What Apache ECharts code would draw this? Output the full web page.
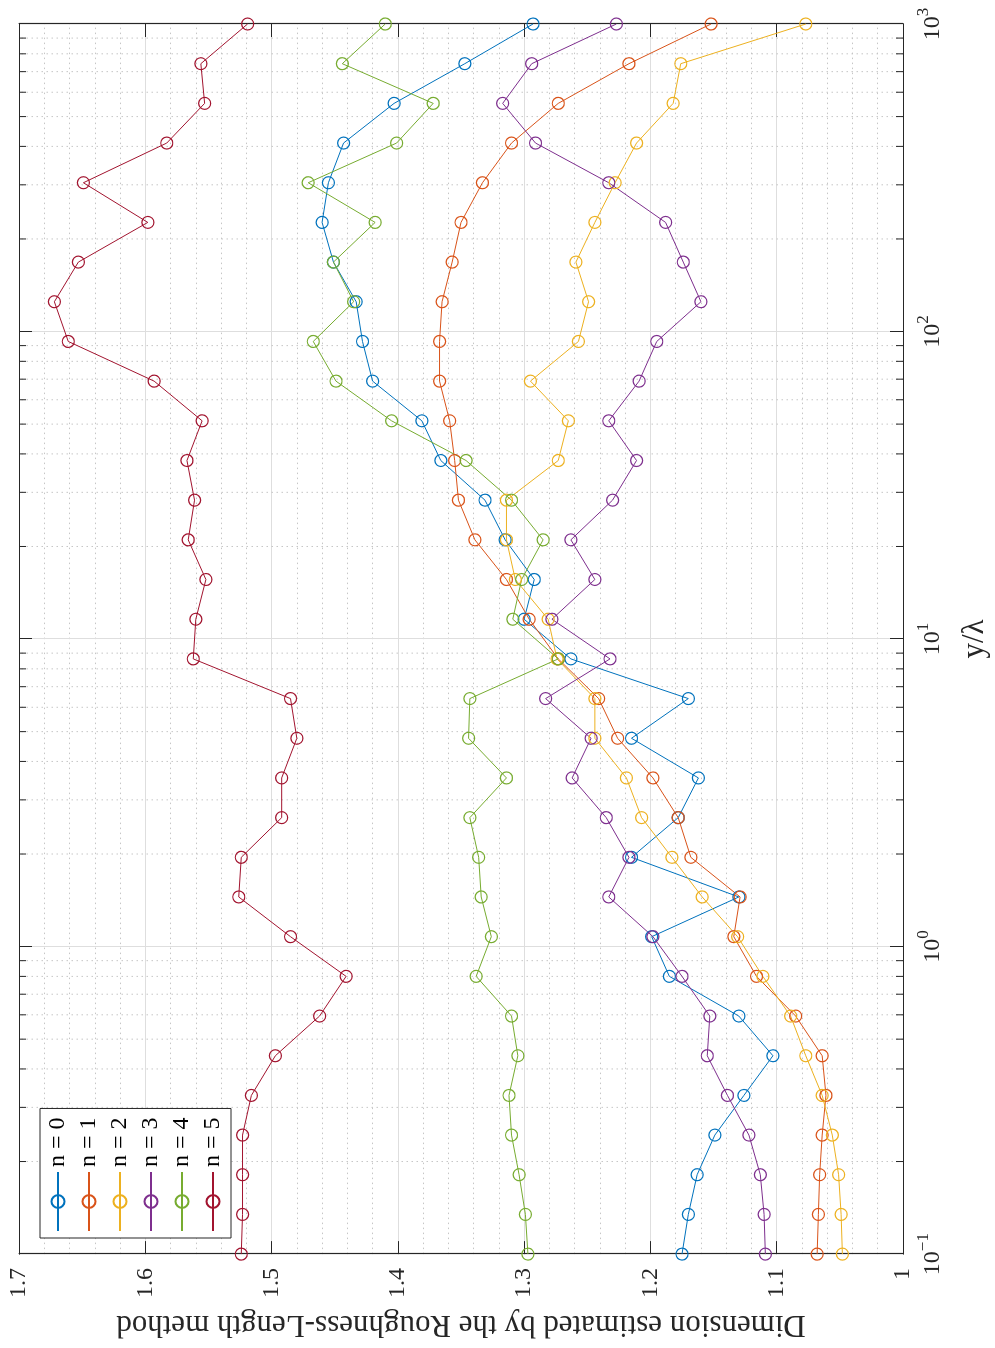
<!DOCTYPE html>
<html>
<head>
<meta charset="utf-8">
<script src="https://cdn.jsdelivr.net/npm/echarts@6/dist/echarts.min.js"></script>
<style>
  html, body { margin: 0; padding: 0; background: #fff; width: 995px; height: 1348px; overflow: hidden; }
  /* The figure is laid out landscape and turned a quarter-turn counter-clockwise onto the portrait page */
  #chart {
    position: absolute; left: 0; top: 0;
    width: 1348px; height: 995px;
    transform-origin: 0 0;
    transform: translate(0px, 1348px) rotate(-90deg);
  }
</style>
</head>
<body>
<div id="chart"></div>
<script>
// Normalised scale y/λ at which the dimension was estimated (log-spaced)
const yLambda = [0.1, 0.1346, 0.1812, 0.2438, 0.3281, 0.4416, 0.5944, 0.8002,
  1.077, 1.450, 1.951, 2.626, 3.535, 4.758, 6.404, 8.620,
  11.60, 15.62, 21.02, 28.29, 38.07, 51.25, 68.98, 92.84,
  125.0, 168.2, 226.4, 304.7, 410.1, 552.0, 743.0, 1000];

// Roughness-Length dimension estimates, one array per order n
const dimN0 = [1.175, 1.170, 1.163, 1.149, 1.126, 1.103, 1.130, 1.185,
  1.199, 1.130, 1.215, 1.178, 1.162, 1.215, 1.170, 1.263,
  1.300, 1.292, 1.315, 1.331, 1.366, 1.381, 1.420, 1.428,
  1.433, 1.451, 1.460, 1.455, 1.443, 1.403, 1.347, 1.293];
const dimN1 = [1.068, 1.067, 1.066, 1.064, 1.061, 1.064, 1.085, 1.116,
  1.134, 1.129, 1.168, 1.178, 1.198, 1.226, 1.241, 1.273,
  1.296, 1.314, 1.339, 1.352, 1.355, 1.359, 1.367, 1.367,
  1.365, 1.357, 1.350, 1.333, 1.310, 1.273, 1.217, 1.152];
const dimN2 = [1.048, 1.049, 1.051, 1.056, 1.064, 1.077, 1.089, 1.111,
  1.131, 1.159, 1.183, 1.207, 1.219, 1.244, 1.244, 1.274,
  1.281, 1.307, 1.314, 1.314, 1.273, 1.265, 1.295, 1.257,
  1.249, 1.259, 1.244, 1.228, 1.211, 1.182, 1.176, 1.077];
const dimN3 = [1.109, 1.110, 1.113, 1.122, 1.139, 1.155, 1.153, 1.175,
  1.198, 1.233, 1.217, 1.235, 1.262, 1.247, 1.283, 1.232,
  1.278, 1.244, 1.263, 1.230, 1.211, 1.233, 1.209, 1.195,
  1.160, 1.174, 1.188, 1.233, 1.291, 1.317, 1.294, 1.227];
const dimN4 = [1.297, 1.299, 1.304, 1.310, 1.312, 1.305, 1.310, 1.338,
  1.326, 1.334, 1.336, 1.343, 1.314, 1.344, 1.343, 1.273,
  1.309, 1.302, 1.285, 1.310, 1.346, 1.405, 1.449, 1.467,
  1.435, 1.451, 1.418, 1.471, 1.401, 1.372, 1.444, 1.410];
const dimN5 = [1.524, 1.523, 1.523, 1.523, 1.516, 1.497, 1.462, 1.441,
  1.485, 1.526, 1.524, 1.492, 1.492, 1.480, 1.485, 1.562,
  1.560, 1.552, 1.566, 1.561, 1.567, 1.555, 1.593, 1.661,
  1.672, 1.653, 1.598, 1.649, 1.583, 1.553, 1.556, 1.519];

const seriesNames = ['n = 0', 'n = 1', 'n = 2', 'n = 3', 'n = 4', 'n = 5'];
const seriesValues = [dimN0, dimN1, dimN2, dimN3, dimN4, dimN5];
const seriesColors = ['#0072BD', '#D95319', '#EDB120', '#7E2F8E', '#77AC30', '#A2142F'];

// Intermediate decade positions (2..9 × 10^k) for the dotted minor grid on the log axis
const minorLogTicks = [0.2, 0.3, 0.4, 0.5, 0.6, 0.7, 0.8, 0.9,
  2, 3, 4, 5, 6, 7, 8, 9,
  20, 30, 40, 50, 60, 70, 80, 90,
  200, 300, 400, 500, 600, 700, 800, 900];

const FONT = '"Liberation Serif", "Times New Roman", serif';
const INK = '#262626';
const MAJOR_GRID = '#dedede';
const MINOR_GRID = '#c6c6c6';
const DOT = [1.5, 3.5];

const chart = echarts.init(document.getElementById('chart'), null, { renderer: 'canvas' });

function powerLabel(v) {
  const e = Math.round(Math.log10(v));
  const txt = e < 0 ? '\u2212' + (-e) : String(e);
  return '{b|10}{s|' + txt + '}';
}

const lineSeries = seriesNames.map((name, i) => ({
  name: name,
  type: 'line',
  xAxisIndex: 0,
  yAxisIndex: 0,
  data: yLambda.map((x, k) => [x, seriesValues[i][k]]),
  symbol: 'circle',
  symbolSize: 12,
  clip: false,
  z: 3,
  lineStyle: { color: seriesColors[i], width: 1 },
  itemStyle: { color: 'rgba(255,255,255,0)', borderColor: seriesColors[i], borderWidth: 1.2 },
  emphasis: { disabled: true }
}));

const minorGridSeries = {
  type: 'custom',
  name: 'minor-grid',
  xAxisIndex: 0,
  yAxisIndex: 0,
  silent: true,
  clip: false,
  z: 1,
  data: minorLogTicks.map(v => [v, 1]),
  encode: { x: 0, y: 1 },
  renderItem: function (params, api) {
    const v = api.value(0);
    const lo = api.coord([v, 1.0]);
    const hi = api.coord([v, 1.7]);
    return {
      type: 'group',
      children: [
        { type: 'line', shape: { x1: lo[0], y1: lo[1], x2: hi[0], y2: hi[1] },
          style: { stroke: MINOR_GRID, lineWidth: 1, lineDash: DOT } },
        { type: 'line', shape: { x1: lo[0], y1: lo[1], x2: lo[0], y2: lo[1] - 7 },
          style: { stroke: INK, lineWidth: 1 } },
        { type: 'line', shape: { x1: hi[0], y1: hi[1], x2: hi[0], y2: hi[1] + 7 },
          style: { stroke: INK, lineWidth: 1 } }
      ]
    };
  }
};

const axisLineStyle = { color: INK, width: 1.2 };

const option = {
  animation: false,
  backgroundColor: '#ffffff',
  grid: { left: 89, right: 24, top: 19, bottom: 92, containLabel: false },
  legend: {
    data: seriesNames,
    orient: 'vertical',
    left: 110,
    top: 40,
    itemWidth: 59,
    itemHeight: 16,
    itemGap: 7,
    padding: [6, 9, 6, 6],
    selectedMode: false,
    backgroundColor: '#ffffff',
    borderColor: INK,
    borderWidth: 1,
    borderRadius: 0,
    textStyle: { fontFamily: FONT, fontSize: 24, color: '#000' },
    z: 10
  },
  xAxis: [
    {
      type: 'log',
      logBase: 10,
      min: 0.1,
      max: 1000,
      interval: 1,
      position: 'bottom',
      name: 'y/λ',
      nameLocation: 'middle',
      nameGap: 56,
      nameTextStyle: { fontFamily: FONT, fontSize: 31, color: INK },
      axisLine: { show: true, onZero: false, lineStyle: axisLineStyle },
      axisTick: { show: true, inside: true, length: 13, lineStyle: { color: INK, width: 1 } },
      axisLabel: {
        margin: 12,
        formatter: powerLabel,
        rich: {
          b: { fontFamily: FONT, fontSize: 24, color: INK, lineHeight: 30, verticalAlign: 'bottom' },
          s: { fontFamily: FONT, fontSize: 17, color: INK, lineHeight: 17, verticalAlign: 'top' }
        }
      },
      splitLine: { show: true, lineStyle: { color: MAJOR_GRID, width: 1 } },
      minorTick: { show: false },
      minorSplitLine: { show: false }
    },
    {
      type: 'log',
      logBase: 10,
      min: 0.1,
      max: 1000,
      interval: 1,
      position: 'top',
      axisLine: { show: true, onZero: false, lineStyle: axisLineStyle },
      axisTick: { show: true, inside: true, length: 13, lineStyle: { color: INK, width: 1 } },
      axisLabel: { show: false },
      splitLine: { show: false }
    }
  ],
  yAxis: [
    {
      type: 'value',
      min: 1,
      max: 1.7,
      interval: 0.1,
      position: 'left',
      name: 'Dimension estimated by the Roughness-Length method',
      nameLocation: 'middle',
      nameGap: 54,
      nameTextStyle: { fontFamily: FONT, fontSize: 31, color: INK },
      axisLine: { show: true, onZero: false, lineStyle: axisLineStyle },
      axisTick: { show: true, inside: true, length: 13, lineStyle: { color: INK, width: 1 } },
      axisLabel: { fontFamily: FONT, fontSize: 24, color: INK, margin: 14 },
      splitLine: { show: true, lineStyle: { color: MAJOR_GRID, width: 1 } },
      minorTick: { show: false, splitNumber: 5 },
      minorSplitLine: { show: true, lineStyle: { color: MINOR_GRID, width: 1, type: DOT } }
    },
    {
      type: 'value',
      min: 1,
      max: 1.7,
      interval: 0.1,
      position: 'right',
      axisLine: { show: true, onZero: false, lineStyle: axisLineStyle },
      axisTick: { show: true, inside: true, length: 13, lineStyle: { color: INK, width: 1 } },
      axisLabel: { show: false },
      splitLine: { show: false }
    }
  ],
  series: [minorGridSeries].concat(lineSeries)
};

chart.setOption(option);
</script>
</body>
</html>
